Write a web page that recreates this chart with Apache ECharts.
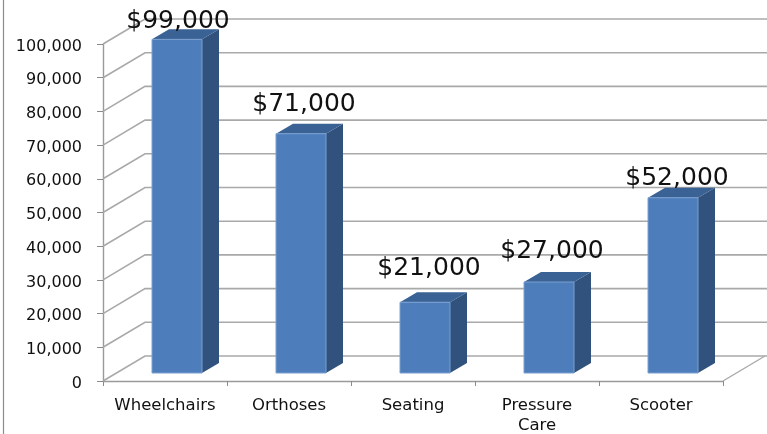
<!DOCTYPE html>
<html>
<head>
<meta charset="utf-8">
<script src="https://cdn.jsdelivr.net/npm/echarts@6/dist/echarts.min.js"></script>
<style>
  html, body { margin: 0; padding: 0; background: #fff; }
  #chart { width: 767px; height: 434px; }
</style>
</head>
<body>
<div id="chart"></div>
<script>
const categories = ['Wheelchairs', 'Orthoses', 'Seating', 'Pressure\nCare', 'Scooter']
const sales = [99000, 71000, 21000, 27000, 52000]
const gridValues = [0, 10000, 20000, 30000, 40000, 50000, 60000, 70000, 80000, 90000, 100000]

// label nudges, the labels were placed by hand in the original
const labelDx = [1, 3, 4, 3, 4]
const labelLift = [18, 29, 34, 31, 19]

const FONT = '"DejaVu Sans", sans-serif'
const WALL_X = 42
const WALL_Y = -25
const BAR_X = 12
const BAR_Y = -8
const BAR_W = 50
const SIDE_X = 17
const SIDE_Y = -10

const chart = echarts.init(document.getElementById('chart'), null, { renderer: 'canvas' })

const renderGrid = (params, api) => {
  const p = api.coord([0, api.value(0)])
  const rect = params.coordSys
  return {
    type: 'polyline',
    silent: true,
    shape: {
      points: [
        [rect.x, p[1]],
        [rect.x + WALL_X, p[1] + WALL_Y],
        [rect.x + rect.width + WALL_X + 2, p[1] + WALL_Y]
      ]
    },
    style: { fill: null, stroke: '#a9a9a9', lineWidth: 1.6 }
  }
}

const renderFloor = (params, api) => {
  const rect = params.coordSys
  const y = rect.y + rect.height
  const x = rect.x + rect.width
  return {
    type: 'line',
    silent: true,
    shape: { x1: x, y1: y, x2: x + WALL_X, y2: y + WALL_Y },
    style: { stroke: '#a9a9a9', lineWidth: 1.4 }
  }
}

const renderBar = (params, api) => {
  const i = api.value(0)
  const top = api.coord([i, api.value(1)])
  const base = api.coord([i, 0])
  const l = top[0] + BAR_X - BAR_W / 2
  const r = l + BAR_W
  const t = top[1] + BAR_Y
  const b = base[1] + BAR_Y
  return {
    type: 'group',
    children: [
      {
        type: 'polygon',
        shape: { points: [[r, t], [r + SIDE_X, t + SIDE_Y], [r + SIDE_X, b + SIDE_Y], [r, b]] },
        style: { fill: '#30527c' }
      },
      {
        type: 'polygon',
        shape: { points: [[l, t], [l + SIDE_X, t + SIDE_Y], [r + SIDE_X, t + SIDE_Y], [r, t]] },
        style: { fill: '#3a6295' }
      },
      {
        type: 'rect',
        shape: { x: l, y: t, width: BAR_W, height: b - t },
        style: { fill: '#4d7ebb', stroke: '#7ba0d0', lineWidth: 1 }
      },
      {
        type: 'text',
        style: {
          x: top[0] + BAR_X + labelDx[i],
          y: t - labelLift[i],
          text: '$' + api.value(1).toLocaleString('en-US'),
          font: '25px ' + FONT,
          fill: '#111',
          align: 'center',
          verticalAlign: 'middle'
        }
      }
    ]
  }
}

chart.setOption({
  animation: false,
  backgroundColor: '#fff',
  grid: { left: 103, right: 44, top: 44, bottom: 53, outerBoundsMode: 'none' },
  xAxis: {
    type: 'category',
    data: categories,
    axisLine: { lineStyle: { color: '#9a9a9a', width: 1.4 } },
    axisTick: { show: true, alignWithLabel: false, length: 5, lineStyle: { color: '#8a8a8a' } },
    axisLabel: {
      color: '#111',
      fontFamily: FONT,
      fontSize: 16.5,
      lineHeight: 20,
      margin: 15,
      interval: 0
    }
  },
  yAxis: {
    type: 'value',
    min: 0,
    max: 100000,
    interval: 10000,
    splitLine: { show: false },
    axisLine: { show: true, lineStyle: { color: '#9a9a9a', width: 1.4 } },
    axisTick: { show: true, length: 6, lineStyle: { color: '#8a8a8a' } },
    axisLabel: {
      color: '#111',
      fontFamily: FONT,
      fontSize: 16,
      margin: 21,
      verticalAlign: 'top',
      lineHeight: 5,
      formatter: (v) => v.toLocaleString('en-US')
    }
  },
  series: [
    {
      type: 'custom',
      z: 1,
      silent: true,
      clip: false,
      renderItem: renderGrid,
      encode: { y: 0 },
      data: gridValues.map((v) => [v])
    },
    {
      type: 'custom',
      z: 1,
      silent: true,
      clip: false,
      renderItem: renderFloor,
      data: [[0]]
    },
    {
      type: 'custom',
      z: 3,
      silent: true,
      clip: false,
      renderItem: renderBar,
      encode: { x: 0, y: 1 },
      data: sales.map((v, i) => [i, v])
    }
  ],
  graphic: [
    {
      type: 'line',
      silent: true,
      shape: { x1: 3.5, y1: 0, x2: 3.5, y2: 434 },
      style: { stroke: '#8c8c8c', lineWidth: 1.2 }
    }
  ]
})
</script>
</body>
</html>
